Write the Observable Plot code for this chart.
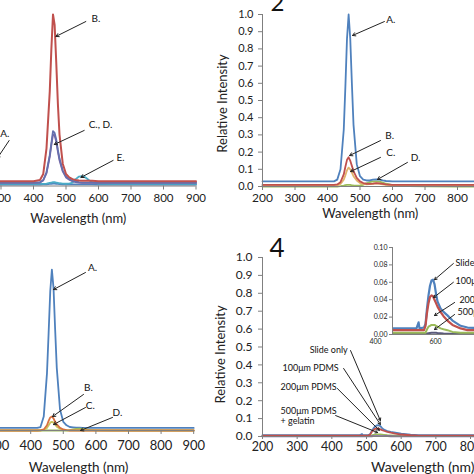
<!DOCTYPE html>
<html><head><meta charset="utf-8">
<script src="https://cdn.jsdelivr.net/npm/d3@7"></script>
<script src="https://cdn.jsdelivr.net/npm/@observablehq/plot@0.6"></script>
<style>
html,body{margin:0;padding:0;background:#fff;overflow:hidden}
#root{position:relative;width:474px;height:474px;overflow:hidden;background:#fff}
#root svg{position:absolute}
</style></head><body><div id="root"></div>
<script>
// ---------- data ----------
const wl = [200,300,400,420,430,440,450,455,460,465,470,475,480,490,500,510,520,530,540,550,560,570,580,600,650,700,800,900];
// panel 1
const p1A = [.008,.008,.008,.008,.009,.01,.012,.013,.014,.014,.013,.012,.011,.01,.009,.009,.009,.009,.009,.009,.009,.009,.009,.008,.008,.008,.008,.008];
const p1B = [.028,.028,.028,.035,.07,.22,.55,.80,1.0,.94,.72,.48,.30,.13,.07,.05,.04,.035,.032,.03,.03,.03,.03,.028,.028,.028,.028,.028];
const p1C = [.02,.02,.02,.022,.035,.08,.18,.25,.32,.31,.27,.21,.16,.09,.055,.04,.03,.025,.022,.02,.02,.02,.02,.02,.02,.02,.02,.02];
const p1D = [.018,.018,.018,.02,.032,.075,.17,.24,.30,.295,.26,.2,.15,.085,.05,.037,.028,.023,.02,.018,.018,.018,.018,.018,.018,.018,.018,.018];
const p1E = [.012,.012,.012,.012,.012,.014,.018,.02,.022,.022,.02,.018,.016,.014,.013,.014,.02,.04,.055,.058,.05,.035,.022,.014,.012,.012,.012,.012];
// panel 2
const p2A = [.03,.03,.03,.03,.04,.10,.33,.58,.86,1.0,.86,.60,.36,.13,.06,.04,.035,.035,.04,.042,.04,.035,.032,.03,.03,.03,.03,.03];
const p2B = [.01,.01,.01,.01,.012,.025,.07,.115,.155,.17,.15,.12,.09,.05,.03,.02,.016,.015,.017,.02,.018,.015,.012,.01,.01,.01,.01,.01];
const p2C = [.004,.004,.004,.004,.006,.015,.04,.065,.095,.11,.10,.08,.06,.035,.02,.015,.013,.014,.016,.018,.016,.013,.01,.006,.004,.004,.004,.004];
const p2D = [0,0,0,0,0,.002,.005,.008,.01,.01,.009,.007,.006,.005,.006,.01,.018,.025,.03,.03,.028,.022,.016,.008,.003,.001,0,0];
// panel 3
const p3A = [.015,.015,.015,.015,.02,.08,.33,.56,.80,.925,.82,.58,.36,.12,.05,.03,.02,.018,.016,.016,.015,.015,.015,.015,.015,.015,.015,.015];
const p3B = [0,0,0,0,.001,.006,.03,.055,.075,.08,.07,.05,.035,.015,.006,.002,0,0,0,0,0,0,0,0,0,0,0,0];
const p3C = [0,0,0,0,0,.003,.015,.03,.045,.05,.045,.035,.022,.01,.004,.001,0,0,0,0,0,0,0,0,0,0,0,0];
const p3D = [0,0,0,0,0,0,0,0,0,0,0,0,0,0,0,0,.002,.006,.009,.01,.009,.006,.004,.001,0,0,0,0];
// panel 4 (main + inset)
const wl4 = [200,300,400,480,487,490,505,510,515,520,525,530,535,540,545,550,560,570,583,600,627,650,700,800,900];
const p4Slide = [.007,.007,.007,.007,.014,.007,.008,.012,.03,.045,.056,.062,.063,.058,.047,.038,.03,.026,.022,.016,.01,.008,.007,.007,.007];
const p4P100  = [.005,.005,.005,.005,.005,.005,.005,.01,.025,.036,.043,.045,.044,.04,.036,.032,.026,.021,.016,.011,.007,.005,.005,.005,.005];
const p4P200  = [.002,.002,.002,.002,.002,.002,.002,.002,.006,.009,.010,.011,.011,.011,.010,.009,.007,.006,.005,.003,.002,.002,.002,.002,.002];
const p4P500  = [.0005,.0005,.0005,.0005,.0005,.0005,.0005,.0008,.0012,.0015,.0018,.002,.002,.002,.002,.0018,.0015,.0012,.001,.0008,.0005,.0005,.0005,.0005,.0005];
// ticks
const xTicks = [200,300,400,500,600,700,800,900];
const yTicks = [0,.1,.2,.3,.4,.5,.6,.7,.8,.9,1];
const insetXTicks = [400,600,800];
const insetYTicks = [0,.02,.04,.06,.08,.10];
// annotations (data units)
const p1Notes = [{t:"B.",x:592,y:.977},{t:"C., D.",x:606,y:.359},{t:"E.",x:668,y:.166},{t:"A.",x:312,y:.306}];
const p1Arrows = [{x1:561,y1:.959,x2:469,y2:.872},{x1:556,y1:.324,x2:464,y2:.242},{x1:645,y1:.149,x2:546,y2:.05},{x1:325,y1:.265,x2:288,y2:.16}];
const p2Notes = [{t:"A.",x:595,y:.971},{t:"B.",x:591,y:.297},{t:"C.",x:595,y:.198},{t:"D.",x:671,y:.169}];
const p2Arrows = [{x1:575,y1:.959,x2:477,y2:.878},{x1:563,y1:.267,x2:468,y2:.18},{x1:563,y1:.169,x2:471,y2:.087},{x1:646,y1:.14,x2:554,y2:.041}];
const p3Notes = [{t:"A.",x:590,y:.937},{t:"B.",x:577,y:.247},{t:"C.",x:583,y:.144},{t:"D.",x:666,y:.103}];
const p3Arrows = [{x1:568,y1:.908,x2:470,y2:.81},{x1:562,y1:.207,x2:467,y2:.08},{x1:568,y1:.132,x2:470,y2:.034},{x1:651,y1:.075,x2:553,y2:0}];
const p4Notes = [{t:"Slide only",x:336,y:.486},{t:"100μm PDMS",x:258,y:.385},{t:"200μm PDMS",x:252,y:.279},{t:"500μm PDMS\n+ gelatin",x:252,y:.117}];
const p4Arrows = [{x1:454,y1:.48,x2:540,y2:.089},{x1:434,y1:.38,x2:540,y2:.067},{x1:416,y1:.268,x2:537,y2:.034},{x1:411,y1:.117,x2:532,y2:.022}];
const inNotes = [{t:"Slide only",x:610,y:.0828},{t:"100μm PDMS",x:610,y:.062},{t:"200μm PDMS",x:623,y:.040},{t:"500μm PDMS",x:617,y:.0264}];
const inArrows = [{x1:603,y1:.0816,x2:540,y2:.063},{x1:603,y1:.06,x2:537,y2:.0425},{x1:607,y1:.0368,x2:540,y2:.0218},{x1:607,y1:.023,x2:540,y2:.0057}];

// ---------- drawing ----------
const root = document.getElementById("root");
const FONT = "Lato, 'Open Sans', sans-serif";
const AX = "#7f7f7f", TXT = "#222";
const C = {blue:"#4F81BD", red:"#C0504D", green:"#9BBB59", purple:"#8064A2", aqua:"#4BACC6", slate:"#6470AE", tan:"#E2B46C", orange:"#D8703F", yellow:"#CBC35C"};
const pts = (xs, ys) => xs.map((x,i) => ({x, y: ys[i]}));
const line = (xs, ys, stroke, sw=1.8, clip=false) => Plot.line(pts(xs, ys), {x:"x", y:"y", stroke, strokeWidth: sw, clip});

function makePanel(o) {
  const w = o.ML + (o.px1 - o.px0) + o.MR;
  const h = o.MT + (o.yBot - o.yTop) + o.MB;
  const svg = Plot.plot({
    width: w, height: h,
    marginLeft: o.ML, marginRight: o.MR, marginTop: o.MT, marginBottom: o.MB,
    x: {type: "linear", domain: o.xDomain},
    y: {type: "linear", domain: o.yDomain},
    style: {fontFamily: FONT, background: "transparent", overflow: "visible", color: TXT},
    marks: [
      ...o.lines,
      Plot.ruleY([o.yDomain[0]], {stroke: AX}),
      Plot.ruleX([o.xDomain[0]], {stroke: AX}),
      Plot.axisX({ticks: o.xTicks, tickSize: o.xTickSize, tickPadding: o.xPad, fontSize: o.xFont, label: null, stroke: AX, fill: TXT, tickFormat: d => String(d), dx: o.xdx || 0}),
      Plot.axisY({ticks: o.yTicks, tickSize: o.yTickSize, tickPadding: o.yPad, fontSize: o.yFont, label: null, stroke: AX, fill: TXT, tickFormat: d3.format(o.yFmt)}),
      ...(o.extra || [])
    ]
  });
  svg.style.left = (o.px0 - o.ML) + "px";
  svg.style.top = (o.yTop - o.MT) + "px";
  root.appendChild(svg);
}
const xTitle = (dx, dy, fs) => Plot.text(["Wavelength (nm)"], {text: d => d, frameAnchor: "bottom", dx, dy, fontSize: fs, fill: TXT, lineAnchor: "middle"});
const yTitle = (dx, dy, fs) => Plot.text(["Relative Intensity"], {text: d => d, frameAnchor: "left", rotate: -90, dx, dy, fontSize: fs, fill: TXT, lineAnchor: "middle", textAnchor: "middle"});
const notes = (data, fs, anchor="middle") => Plot.text(data, {x:"x", y:"y", text:"t", fontSize: fs, fill: "#111", textAnchor: anchor, lineAnchor: "middle", lineHeight: 1.15});
const arrows = (data, hl=5) => Plot.arrow(data, {x1:"x1", y1:"y1", x2:"x2", y2:"y2", stroke: "#222", strokeWidth: 1, headLength: hl});
const bigNum = (t, dx, dy, fs) => Plot.text([t], {text: d => d, frameAnchor: "top-left", dx, dy, fontSize: fs, fill: "#111", textAnchor: "start", lineAnchor: "bottom"});

// Panel 1 (top-left)
makePanel({px0:-32.5, px1:195, yTop:14, yBot:185.5, ML:45, MR:10, MT:14, MB:45,
  xDomain:[200,900], yDomain:[0,1], xTicks, yTicks, xTickSize:4, xPad:4, xFont:11.5, yTickSize:4, yPad:5, yFont:11, yFmt:".1f",
  lines: [line(wl,p1A,C.blue), line(wl,p1E,C.aqua), line(wl,p1D,C.purple), line(wl,p1C,C.slate), line(wl,p1B,C.red,2)],
  extra: [xTitle(-4, 32.5, 13), arrows(p1Arrows), notes(p1Notes, 10)]
});
// Panel 2 (top-right)
makePanel({px0:262, px1:489.5, yTop:14, yBot:186, ML:50, MR:10, MT:14, MB:45,
  xDomain:[200,900], yDomain:[0,1], xTicks, yTicks, xTickSize:4, xPad:3, xFont:12, yTickSize:4, yPad:5, yFont:11, yFmt:".1f",
  lines: [line(wl,p2D,C.green), line(wl,p2C,C.tan), line(wl,p2B,C.red), line(wl,p2A,C.blue)],
  extra: [xTitle(-6, 27, 13), yTitle(-40, 3, 13), bigNum("2", 8, -4, 24), arrows(p2Arrows), notes(p2Notes, 10)]
});
// Panel 3 (bottom-left)
makePanel({px0:-35.2, px1:193, yTop:256, yBot:430, ML:45, MR:10, MT:14, MB:45,
  xDomain:[200,900], yDomain:[0,1], xTicks, yTicks, xTickSize:4, xPad:6, xFont:13, yTickSize:4, yPad:5, yFont:11, yFmt:".1f",
  lines: [line(wl,p3A,C.blue), line(wl,p3D,C.green), line(wl,p3C,C.yellow), line(wl,p3B,C.orange)],
  extra: [xTitle(-1, 37, 13.5), arrows(p3Arrows), notes(p3Notes, 10)]
});
// Panel 4 (bottom-right)
makePanel({px0:262, px1:504.7, yTop:257, yBot:436, ML:50, MR:10, MT:14, MB:45,
  xDomain:[200,900], yDomain:[0,1], xTicks, yTicks, xTickSize:3, xPad:3, xFont:12.5, yTickSize:4, yPad:6, yFont:12, yFmt:".1f",
  lines: [line(wl4,p4Slide,C.blue), line(wl4,p4P200,C.green), line(wl4,p4P500,C.purple), line(wl4,p4P100,C.red)],
  extra: [xTitle(39, 31, 14), yTitle(-42, 7.5, 13), bigNum("4", 7, 0, 26), arrows(p4Arrows, 4), notes(p4Notes, 9, "start")]
});
// Inset
makePanel({px0:392, px1:542, yTop:247, yBot:334, ML:25, MR:5, MT:6, MB:15,
  xDomain:[400,900], yDomain:[0,0.1], xTicks: insetXTicks, yTicks: insetYTicks, xTickSize:0, xPad:5, xFont:7, xdx:-17, yTickSize:3, yPad:2, yFont:7, yFmt:".2f",
  lines: [line(wl4,p4Slide,C.blue,2.2,true), line(wl4,p4P500,"#5a5a7a",2,true), line(wl4,p4P200,C.green,2,true), line(wl4,p4P100,C.red,2.2,true)],
  extra: [arrows(inArrows, 4), notes(inNotes, 9, "start")]
});
</script></body></html>
